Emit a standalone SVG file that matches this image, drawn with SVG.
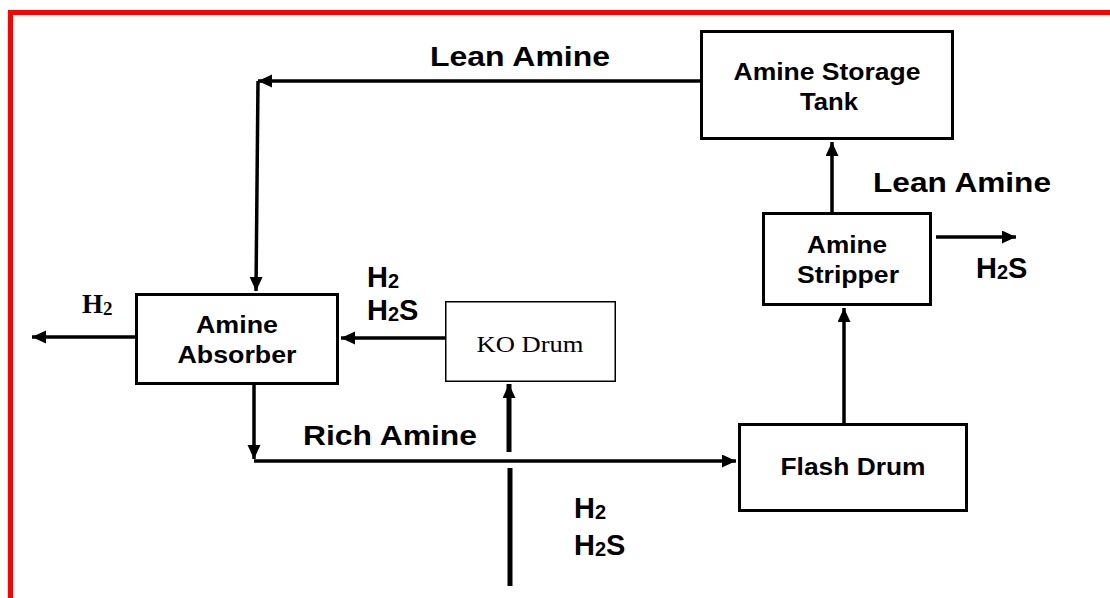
<svg xmlns="http://www.w3.org/2000/svg" width="1110" height="598" viewBox="0 0 1110 598">
<defs>
<marker id="ah" markerUnits="userSpaceOnUse" markerWidth="16" markerHeight="14" refX="14" refY="6.5" orient="auto">
<path d="M0,0 L14,6.5 L0,13 z" fill="#000"/>
</marker>
<style>
.box{fill:#fff;stroke:#000;stroke-width:3}
.thin{fill:#fff;stroke:#000;stroke-width:1.5}
.ln{fill:none;stroke:#000;stroke-width:3.5}
.fat{fill:none;stroke:#000;stroke-width:5}
.t{font-family:"Liberation Sans",Arial,sans-serif;font-weight:bold;fill:#000}
.s{font-family:"Liberation Serif","Times New Roman",serif;fill:#000}
</style>
</defs>
<rect width="1110" height="598" fill="#fff"/>
<path d="M10.5,598 L10.5,12.5 L1110,12.5" fill="none" stroke="#ff0000" stroke-width="5"/>

<g id="connectors">
<line class="ln" x1="700" y1="81" x2="258" y2="81" marker-end="url(#ah)"/>
<line class="ln" x1="258" y1="81" x2="256" y2="291" marker-end="url(#ah)"/>
<line class="ln" x1="135" y1="337" x2="32" y2="337" marker-end="url(#ah)"/>
<line class="ln" x1="445" y1="338" x2="341" y2="338" marker-end="url(#ah)"/>
<line class="ln" x1="254" y1="385" x2="254" y2="459" marker-end="url(#ah)"/>
<line class="ln" x1="254" y1="461" x2="736" y2="461" marker-end="url(#ah)"/>
<line class="fat" x1="509" y1="452" x2="509" y2="384" marker-end="url(#ah)"/>
<line class="fat" x1="510" y1="468" x2="510" y2="586"/>
<line class="ln" x1="844" y1="423" x2="844" y2="308" marker-end="url(#ah)"/>
<line class="ln" x1="832" y1="212" x2="832" y2="142" marker-end="url(#ah)"/>
<line class="ln" x1="936" y1="237" x2="1016" y2="237" marker-end="url(#ah)"/>
</g>

<g id="absorber">
<rect class="box" x="136.5" y="294.5" width="201" height="89"/>
<text class="t" x="237" y="333" font-size="24" text-anchor="middle" textLength="82" lengthAdjust="spacingAndGlyphs">Amine</text>
<text class="t" x="237" y="363" font-size="24" text-anchor="middle" textLength="119" lengthAdjust="spacingAndGlyphs">Absorber</text>
</g>

<g id="ko-drum">
<rect class="thin" x="445.75" y="301.75" width="169.5" height="79.5"/>
<text class="s" x="530" y="352" font-size="23" text-anchor="middle" textLength="107" lengthAdjust="spacingAndGlyphs">KO Drum</text>
</g>

<g id="storage-tank">
<rect class="box" x="701.5" y="31.5" width="251" height="107"/>
<text class="t" x="827" y="80" font-size="24" text-anchor="middle" textLength="187" lengthAdjust="spacingAndGlyphs">Amine Storage</text>
<text class="t" x="829" y="110" font-size="24" text-anchor="middle" textLength="58" lengthAdjust="spacingAndGlyphs">Tank</text>
</g>

<g id="stripper">
<rect class="box" x="763.5" y="213.5" width="167" height="91"/>
<text class="t" x="847" y="253" font-size="24" text-anchor="middle" textLength="80" lengthAdjust="spacingAndGlyphs">Amine</text>
<text class="t" x="848" y="283" font-size="24" text-anchor="middle" textLength="102" lengthAdjust="spacingAndGlyphs">Stripper</text>
</g>

<g id="flash-drum">
<rect class="box" x="739.5" y="424.5" width="227" height="86"/>
<text class="t" x="853" y="475" font-size="23" text-anchor="middle" textLength="145" lengthAdjust="spacingAndGlyphs">Flash Drum</text>
</g>

<g id="labels">
<text class="t" x="520" y="66" font-size="28" text-anchor="middle" textLength="180" lengthAdjust="spacingAndGlyphs">Lean Amine</text>
<text class="t" x="962" y="192" font-size="28" text-anchor="middle" textLength="178" lengthAdjust="spacingAndGlyphs">Lean Amine</text>
<text class="t" x="390" y="445" font-size="28" text-anchor="middle" textLength="174" lengthAdjust="spacingAndGlyphs">Rich Amine</text>
<text class="s" x="82" y="313" font-size="27" font-weight="bold">H<tspan font-size="19" dy="2">2</tspan></text>
<text class="t" x="367" y="287" font-size="29">H<tspan font-size="20" dy="1">2</tspan></text>
<text class="t" x="367" y="320" font-size="29">H<tspan font-size="20" dy="1">2</tspan><tspan dy="-1">S</tspan></text>
<text class="t" x="574" y="518" font-size="29">H<tspan font-size="20" dy="1">2</tspan></text>
<text class="t" x="574" y="555" font-size="29">H<tspan font-size="20" dy="1">2</tspan><tspan dy="-1">S</tspan></text>
<text class="t" x="976" y="278" font-size="29">H<tspan font-size="20" dy="1">2</tspan><tspan dy="-1">S</tspan></text>
</g>
</svg>
